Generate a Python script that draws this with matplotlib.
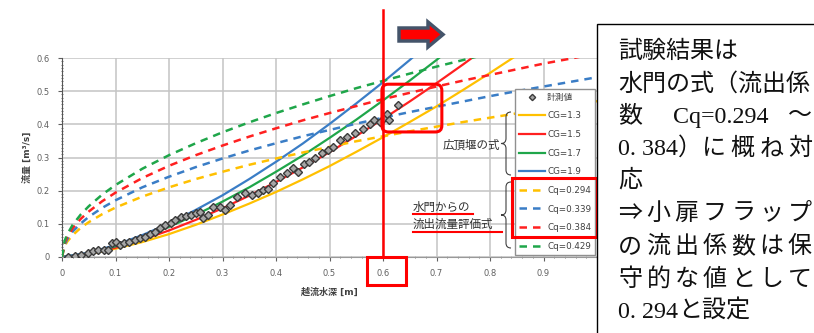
import matplotlib
matplotlib.use("Agg")
import matplotlib.pyplot as plt
import matplotlib.transforms as mtransforms
from matplotlib.patches import Rectangle, FancyBboxPatch, Polygon, PathPatch
from matplotlib.path import Path
from matplotlib.lines import Line2D
from matplotlib.ticker import MultipleLocator

plt.rcParams['font.family'] = ['DejaVu Sans', 'Noto Sans CJK JP']

h_meas = [0.011, 0.024, 0.036, 0.049, 0.058, 0.067, 0.078, 0.086, 0.094, 0.100, 0.108, 0.116,
          0.126, 0.136, 0.146, 0.156, 0.165, 0.174, 0.183, 0.193, 0.203, 0.212, 0.222, 0.232,
          0.242, 0.251, 0.258, 0.264, 0.273, 0.283, 0.295, 0.305, 0.314, 0.327, 0.342, 0.355,
          0.367, 0.376, 0.385, 0.395, 0.407, 0.420, 0.432, 0.441, 0.452, 0.462, 0.472, 0.486,
          0.497, 0.507, 0.520, 0.532, 0.548, 0.563, 0.576, 0.584, 0.594, 0.601, 0.607, 0.612,
          0.628]
q_meas = [0.000, 0.003, 0.006, 0.012, 0.018, 0.020, 0.022, 0.021, 0.042, 0.044, 0.036, 0.042,
          0.046, 0.051, 0.057, 0.060, 0.068, 0.075, 0.086, 0.095, 0.104, 0.112, 0.120, 0.124,
          0.128, 0.133, 0.136, 0.117, 0.126, 0.150, 0.151, 0.142, 0.157, 0.181, 0.193, 0.187,
          0.193, 0.202, 0.206, 0.223, 0.240, 0.252, 0.267, 0.256, 0.280, 0.286, 0.298, 0.315,
          0.322, 0.331, 0.352, 0.361, 0.374, 0.385, 0.402, 0.412, 0.406, 0.419, 0.430, 0.413,
          0.458]

# broad-crested weir formula curves
h_weir = [0.0, 0.05, 0.1, 0.15, 0.2, 0.25, 0.3, 0.35, 0.4, 0.45, 0.5, 0.55, 0.6, 0.65,
          0.7, 0.75, 0.8, 0.85]
q_cg13 = [0, 0.009, 0.025, 0.045, 0.069, 0.097, 0.128, 0.161, 0.196, 0.234, 0.274, 0.317,
          0.361, 0.407, 0.454, 0.504, 0.555, 0.608]
q_cg15 = [0, 0.010, 0.028, 0.052, 0.080, 0.112, 0.147, 0.185, 0.226, 0.270, 0.316, 0.365,
          0.416, 0.469, 0.524, 0.581, 0.640]
q_cg17 = [0, 0.011, 0.032, 0.059, 0.091, 0.127, 0.167, 0.210, 0.257, 0.306, 0.359, 0.414,
          0.472, 0.532, 0.594, 0.659]
q_cg19 = [0, 0.013, 0.036, 0.066, 0.101, 0.142, 0.186, 0.235, 0.287, 0.342, 0.401, 0.463,
          0.527, 0.594, 0.664]

# gate outflow formula curves
h_gate = [0.0, 0.005, 0.01, 0.02, 0.035, 0.05, 0.075, 0.1, 0.15, 0.2, 0.25, 0.3, 0.35, 0.4,
          0.45, 0.5, 0.55, 0.6, 0.65, 0.7, 0.75, 0.8, 0.85, 0.9, 0.95, 1.0]
q_cq294 = [0, 0.033, 0.047, 0.066, 0.088, 0.105, 0.129, 0.149, 0.182, 0.210, 0.235, 0.257,
           0.278, 0.297, 0.315, 0.332, 0.349, 0.364, 0.379, 0.393, 0.407, 0.420, 0.433,
           0.446, 0.458, 0.470]
q_cq339 = [0, 0.038, 0.054, 0.077, 0.101, 0.121, 0.148, 0.171, 0.210, 0.242, 0.271, 0.297,
           0.321, 0.343, 0.364, 0.383, 0.402, 0.420, 0.437, 0.453, 0.469, 0.485, 0.500,
           0.514, 0.528, 0.542]
q_cq384 = [0, 0.043, 0.061, 0.087, 0.115, 0.137, 0.168, 0.194, 0.238, 0.275, 0.307, 0.336,
           0.363, 0.388, 0.412, 0.434, 0.455, 0.476, 0.495, 0.514, 0.532, 0.549, 0.566,
           0.583, 0.598, 0.614]
q_cq429 = [0, 0.049, 0.069, 0.097, 0.128, 0.153, 0.188, 0.217, 0.266, 0.307, 0.343, 0.376,
           0.406, 0.434, 0.460, 0.485, 0.509, 0.531, 0.553, 0.574, 0.594, 0.614]

weir_series = [("CG=1.3", q_cg13, "#FFC000"), ("CG=1.5", q_cg15, "#FF2020"),
               ("CG=1.7", q_cg17, "#1FA64A"), ("CG=1.9", q_cg19, "#3A7DC6")]
gate_series = [("Cq=0.294", q_cq294, "#FFC000"), ("Cq=0.339", q_cq339, "#3A7DC6"),
               ("Cq=0.384", q_cq384, "#FF2020"), ("Cq=0.429", q_cq429, "#1FA64A")]

x_ticks = [0, 0.1, 0.2, 0.3, 0.4, 0.5, 0.6, 0.7, 0.8, 0.9]
x_ticklabels = ['0', '0.1', '0.2', '0.3', '0.4', '0.5', '0.6', '0.7', '0.8', '0.9']
y_ticks = [0, 0.1, 0.2, 0.3, 0.4, 0.5, 0.6]
y_ticklabels = ['0', '0.1', '0.2', '0.3', '0.4', '0.5', '0.6']

box_lines = ["試験結果は", "水門の式（流出係", "応"]

W, H = 814, 333


def fx(x):
    return x / W


def fy(y):
    return 1 - y / H


fig = plt.figure(figsize=(W / 100, H / 100), dpi=100)
ax = fig.add_axes([fx(62), fy(257), 535 / W, 199 / H])

for label, q, c in weir_series:
    ax.plot(h_weir[:len(q)], q, color=c, lw=1.6, label=label, zorder=3)
for label, q, c in gate_series:
    ax.plot(h_gate[:len(q)], q, color=c, lw=1.8, dashes=(3.0, 2.4), label=label, zorder=3)
ax.plot(h_meas, q_meas, ls='none', marker='D', ms=4.0, mfc='#a6a6a6', mec='#3a3a3a',
        mew=1.0, label='計測値', zorder=4)

ax.set_xlim(0, 1.0)
ax.set_ylim(0, 0.6)
ax.set_xticks(x_ticks)
ax.set_xticklabels(x_ticklabels)
ax.set_yticks(y_ticks)
ax.set_yticklabels(y_ticklabels)
ax.xaxis.set_minor_locator(MultipleLocator(0.02))
ax.yaxis.set_minor_locator(MultipleLocator(0.01))
ax.grid(True, which='major', color='#c4c4c4', lw=1.1)
ax.set_axisbelow(True)
ax.tick_params(which='major', labelsize=6, colors='#606060', length=3, width=0.8, pad=6)
ax.tick_params(which='minor', length=2, width=0.6, colors='#606060', direction='inout')
for s in ['top', 'right']:
    ax.spines[s].set_visible(False)
ax.spines['left'].set_color('#555555')
ax.spines['bottom'].set_color('#999999')

ax.set_xlabel('越流水深 [m]', fontsize=6.5, color='#404040', fontweight='bold')
ax.xaxis.set_label_coords(0.5, -0.155)
ax.set_ylabel('流量 [m³/s]', fontsize=6.5, color='#404040', fontweight='bold')
ax.yaxis.set_label_coords(-0.056, 0.5)

handles, labels = ax.get_legend_handles_labels()
order = [8, 0, 1, 2, 3, 4, 5, 6, 7]
leg = ax.legend([handles[i] for i in order], [labels[i] for i in order],
                loc='upper left', bbox_to_anchor=(0.847, 0.845), fontsize=6.3,
                frameon=True, fancybox=False, edgecolor='#909090', framealpha=1,
                handlelength=3.0, handletextpad=0.2, labelspacing=1.1,
                borderpad=0.45, borderaxespad=0, markerscale=0.8)
for t in leg.get_texts():
    t.set_color('#404040')
leg.set_zorder(6)

# red annotations
red = '#FF0000'
blend = mtransforms.blended_transform_factory(ax.transData, fig.transFigure)
fig.add_artist(Line2D([0.6, 0.6], [fy(10), fy(257)], transform=blend, color=red, lw=1.8,
                      zorder=10))
fig.add_artist(Rectangle((fx(367), fy(285)), 39 / W, 28 / H, transform=fig.transFigure,
                         fill=False, ec=red, lw=2.2, zorder=10))
ax.add_patch(FancyBboxPatch((0.598, 0.377), 0.112, 0.144,
                            boxstyle="round,pad=0,rounding_size=0.012",
                            mutation_aspect=1.6, fill=False, ec=red, lw=2.2, zorder=8,
                            clip_on=False))
fig.add_artist(Rectangle((fx(512), fy(237)), 85 / W, 59 / H, transform=fig.transFigure,
                         fill=False, ec=red, lw=2.2, zorder=10))

# arrow at the top
arrow = [(399, 28), (428, 28), (428, 22), (443, 34.5), (428, 47), (428, 41), (399, 41)]
fig.add_artist(Polygon([(fx(x), fy(y)) for x, y in arrow], closed=True,
                       transform=fig.transFigure, fc=red, ec='#44546A', lw=2.5,
                       joinstyle='miter', zorder=10))


def brace(xr, xt, yt, yb):
    xm = (xr + xt) / 2
    ym = (yt + yb) / 2
    verts = [(xr, yt), (xm, yt), (xm, yt + 5), (xm, ym - 5), (xm, ym), (xt, ym),
             (xm, ym), (xm, ym + 5), (xm, yb - 5), (xm, yb), (xr, yb)]
    codes = [Path.MOVETO, Path.CURVE3, Path.CURVE3, Path.LINETO, Path.CURVE3, Path.CURVE3,
             Path.CURVE3, Path.CURVE3, Path.LINETO, Path.CURVE3, Path.CURVE3]
    p = Path([(fx(x), fy(y)) for x, y in verts], codes)
    fig.add_artist(PathPatch(p, transform=fig.transFigure, fill=False, ec='#404040',
                             lw=0.8, zorder=9))


brace(511, 501, 112, 175)
brace(511, 501, 182, 248)
fig.text(fx(500), fy(145), '広頂堰の式', fontsize=8.3, color='#303030', ha='right',
         va='center', zorder=9)
fig.text(fx(413), fy(207), '水門からの', fontsize=8.3, color='#303030', ha='left',
         va='center', zorder=9)
fig.text(fx(413), fy(224), '流出流量評価式', fontsize=8.3, color='#303030', ha='left',
         va='center', zorder=9)
fig.add_artist(Line2D([fx(413), fx(473)], [fy(214), fy(214)], transform=fig.transFigure,
                      color=red, lw=1.5, zorder=9))
fig.add_artist(Line2D([fx(413), fx(502)], [fy(232), fy(232)], transform=fig.transFigure,
                      color=red, lw=1.5, zorder=9))

# text box on the right
fig.add_artist(Rectangle((fx(597), fy(345)), 230 / W, 321 / H, transform=fig.transFigure,
                         fc='white', ec='black', lw=1.0, zorder=20))
serif = ['Liberation Serif', 'Noto Sans CJK JP']
fs = 17.3
em = 24.3
x0, x1 = 618, 812
ys = [49, 81.5, 113.5, 146, 178, 211, 244, 277, 309]
dy = 9


def put(s, x, y, ha='left'):
    fig.text(fx(x), fy(y + dy), s, fontsize=fs, family=serif, ha=ha, va='baseline',
             color='#111111', zorder=21)


def spread(s, a, b, y):
    step = (b - a - em) / (len(s) - 1)
    for i, c in enumerate(s):
        put(c, a + em / 2 + i * step, y, ha='center')


put(box_lines[0], x0, ys[0])
put(box_lines[1], x0, ys[1])
put('数', x0, ys[2])
put('Cq=0.294', 673, ys[2])
put('～', x1, ys[2], ha='right')
put('0. 384）', x0, ys[3])
spread('に概ね対', 702, x1, ys[3])
put(box_lines[2], x0, ys[4])
spread('⇒小扉フラップ', x0, x1, ys[5])
spread('の流出係数は保', x0, x1, ys[6])
spread('守的な値として', x0, x1, ys[7])
put('0. 294', x0, ys[8])
put('と設定', 678, ys[8])

fig.savefig('out.png', dpi=100)
